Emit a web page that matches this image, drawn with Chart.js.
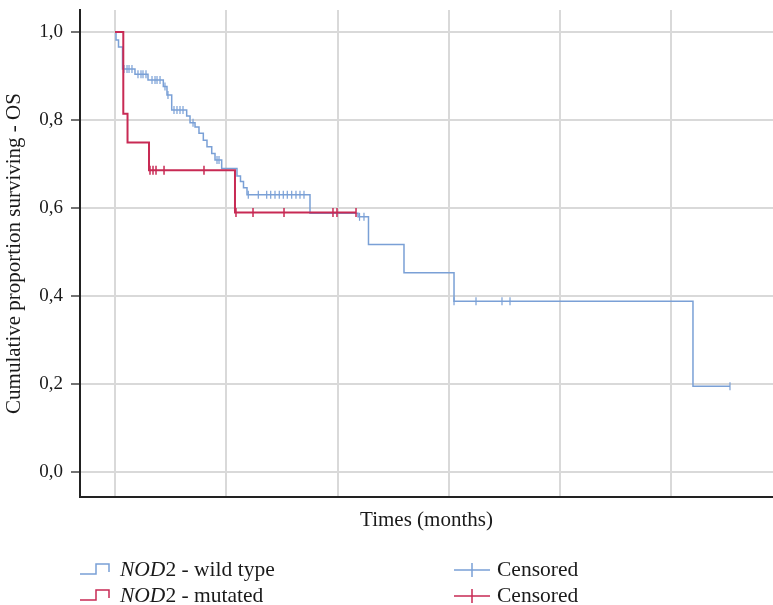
<!DOCTYPE html>
<html><head><meta charset="utf-8">
<script src="https://cdn.jsdelivr.net/npm/chart.js@4"></script>
<style>html,body{margin:0;padding:0;background:#fff;} #wrap{width:773px;height:605px;}</style>
</head><body><div id="wrap"><canvas id="c" width="773" height="605"></canvas></div>
<script>
// ---- data (time in months, cumulative survival) ----
const wildTimes = [0, 0.18, 0.63, 1.35, 3.59, 5.93, 8.68, 9.34, 10.19, 12.88, 13.48, 14.38, 15.09, 15.87, 16.53, 17.38, 17.97, 19.17, 21.92, 22.55, 23.09, 23.72, 35.04, 43.67, 45.55, 51.93, 60.92, 103.86, 110.51];
const wildSurv  = [1.0, 0.982, 0.966, 0.916, 0.904, 0.891, 0.876, 0.857, 0.823, 0.809, 0.794, 0.784, 0.770, 0.754, 0.739, 0.724, 0.709, 0.690, 0.673, 0.660, 0.646, 0.630, 0.588, 0.580, 0.517, 0.453, 0.388, 0.195, 0.195];
const wildCensored = [1.62, 2.16, 2.52, 3.05, 4.13, 4.67, 5.03, 5.57, 6.65, 7.19, 7.55, 8.09, 8.98, 9.52, 10.60, 11.14, 11.68, 12.22, 14.02, 18.33, 18.69, 23.95, 25.75, 27.26, 27.98, 28.75, 29.52, 30.24, 30.96, 31.75, 32.52, 33.24, 33.96, 43.94, 44.74, 60.92, 64.87, 69.54, 70.98, 110.51];
const mutTimes = [0, 1.49, 2.25, 6.11, 21.56, 43.31];
const mutSurv  = [1.0, 0.814, 0.749, 0.686, 0.590, 0.590];
const mutCensored = [6.29, 6.83, 7.37, 8.81, 15.99, 21.74, 24.80, 30.37, 39.17, 39.89, 43.31];
const timeTicks = [0, 20, 40, 60, 80, 100];
const survTicks = [0, 0.2, 0.4, 0.6, 0.8, 1.0];
const legendLabels = [["NOD", "2 - wild type"], ["NOD", "2 - mutated"]];
const censorLabel = "Censored";
const xTitle = "Times (months)";
const yTitle = "Cumulative proportion surviving - OS";

const BLUE = 'rgb(122,160,214)';
const RED = 'rgb(200,42,84)';
const FONT = '"Liberation Serif", "Times New Roman", serif';

function steps(times, surv) { return times.map((t, i) => ({x: t, y: surv[i]})); }
function survAt(times, surv, t) {
  let v = surv[0];
  for (let i = 0; i < times.length; i++) if (times[i] <= t + 1e-9) v = surv[i];
  return v;
}
function censors(ct, times, surv) { return ct.map(t => ({x: t, y: survAt(times, surv, t)})); }
function noPad(s) { s.paddingTop = 0; s.paddingBottom = 0; s.paddingLeft = 0; s.paddingRight = 0; }

const legendPlugin = {
  id: 'kmLegend',
  afterDraw(chart) {
    const ctx = chart.ctx;
    ctx.save();
    const rows = [{y: 570, color: BLUE, lab: legendLabels[0]}, {y: 596, color: RED, lab: legendLabels[1]}];
    rows.forEach(r => {
      ctx.strokeStyle = r.color; ctx.lineWidth = 1.5;
      ctx.beginPath();
      ctx.moveTo(80, r.y + 4); ctx.lineTo(96, r.y + 4); ctx.lineTo(96, r.y - 6);
      ctx.lineTo(109, r.y - 6); ctx.lineTo(109, r.y + 2);
      ctx.stroke();
      ctx.fillStyle = '#1a1a1a'; ctx.textBaseline = 'middle'; ctx.textAlign = 'left';
      ctx.font = 'italic 21.5px ' + FONT;
      ctx.fillText(r.lab[0], 120, r.y);
      const w = ctx.measureText(r.lab[0]).width;
      ctx.font = '21.5px ' + FONT;
      ctx.fillText(r.lab[1], 120 + w, r.y);
      // censored legend
      ctx.beginPath();
      ctx.moveTo(454, r.y); ctx.lineTo(490, r.y);
      ctx.moveTo(472, r.y - 7); ctx.lineTo(472, r.y + 7);
      ctx.stroke();
      ctx.fillText(censorLabel, 497, r.y);
    });
    ctx.restore();
  }
};

new Chart(document.getElementById('c'), {
  type: 'scatter',
  data: {
    datasets: [
      {label: 'mutated', data: steps(mutTimes, mutSurv), showLine: true, stepped: true,
       borderColor: RED, borderWidth: 2, pointRadius: 0, order: 0},
      {label: 'mutated censored', data: censors(mutCensored, mutTimes, mutSurv), showLine: false,
       pointStyle: 'line', rotation: 90, pointRadius: 4.5, borderColor: RED, borderWidth: 1.5, order: 0},
      {label: 'wild', data: steps(wildTimes, wildSurv), showLine: true, stepped: true,
       borderColor: BLUE, borderWidth: 1.5, pointRadius: 0, order: 1},
      {label: 'wild censored', data: censors(wildCensored, wildTimes, wildSurv), showLine: false,
       pointStyle: 'line', rotation: 90, pointRadius: 4, borderColor: BLUE, borderWidth: 1.2, order: 1}
    ]
  },
  options: {
    responsive: false, animation: false, devicePixelRatio: 1,
    layout: {autoPadding: false, padding: {top: 10, left: 0, right: 0, bottom: 0}},
    plugins: {legend: {display: false}, tooltip: {enabled: false}},
    elements: {line: {tension: 0}},
    scales: {
      x: {
        type: 'linear', min: -6.29, max: 118.24,
        afterBuildTicks: s => { s.ticks = timeTicks.map(v => ({value: v})); },
        afterFit: s => { s.height = 108; noPad(s); },
        ticks: {display: false},
        grid: {color: '#d9d9d9', lineWidth: 2, drawTicks: false},
        border: {display: true, color: '#222', width: 2},
        title: {display: true, text: xTitle, color: '#1a1a1a', font: {family: FONT, size: 21}, padding: {top: 0, bottom: 72}}
      },
      y: {
        type: 'linear', min: -0.0568, max: 1.05,
        afterBuildTicks: s => { s.ticks = survTicks.map(v => ({value: v})); },
        afterFit: s => { s.width = 80; noPad(s); },
        ticks: {color: '#1a1a1a', font: {family: FONT, size: 19}, padding: 8,
                callback: v => v.toFixed(1).replace('.', ',')},
        grid: {color: '#d9d9d9', lineWidth: 2, drawTicks: true, tickLength: 9, tickColor: '#444', tickWidth: 1.5},
        border: {display: true, color: '#222', width: 2},
        title: {display: true, text: yTitle, color: '#1a1a1a', font: {family: FONT, size: 21}, padding: {top: 2, bottom: 0}}
      }
    }
  },
  plugins: [legendPlugin]
});
</script></body></html>
